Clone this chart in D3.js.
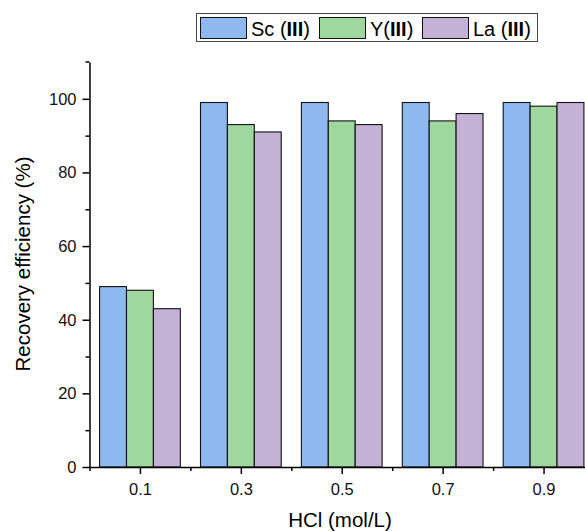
<!DOCTYPE html>
<html>
<head>
<meta charset="utf-8">
<script src="https://cdn.jsdelivr.net/npm/d3@7"></script>
<style>
  body { margin: 0; background: #fff; }
  text { font-family: "Liberation Sans", Arial, sans-serif; }
</style>
</head>
<body>
<svg id="chart" width="585" height="531"></svg>
<script>
// data
const concentrations = [0.1, 0.3, 0.5, 0.7, 0.9];
const seriesNames = ["Sc", "Y", "La"];
const scValues = [49, 99, 99, 99, 99];
const yValues = [48, 93, 94, 94, 98];
const laValues = [43, 91, 93, 96, 99];
const yTicks = [0, 20, 40, 60, 80, 100];

const colors = ["#8db8f0", "#9fd89f", "#c3b1d6"];
const allValues = [scValues, yValues, laValues];

const svg = d3.select("#chart");

// plot area
const x = d3.scaleLinear().domain([0, 1.0]).range([89.5, 594]);
const y = d3.scaleLinear().domain([0, 110]).range([467, 62]);

const groupW = 0.16;
const barW = groupW / 3;

// bars
allValues.forEach((vals, k) => {
  svg.append("g")
    .selectAll("rect")
    .data(concentrations.map((c, i) => ({c: c, v: vals[i]})))
    .join("rect")
      .attr("x", d => x(d.c - groupW / 2 + k * barW))
      .attr("y", d => y(d.v))
      .attr("width", d => x(d.c - groupW / 2 + (k + 1) * barW) - x(d.c - groupW / 2 + k * barW))
      .attr("height", d => y(0) - y(d.v))
      .attr("fill", colors[k])
      .attr("stroke", "#111")
      .attr("stroke-width", 1.1);
});

// Y axis (major + minor ticks)
svg.append("g")
  .attr("transform", "translate(" + x(0) + ",0)")
  .call(d3.axisLeft(y).tickValues(yTicks).tickSize(7).tickPadding(6).tickSizeOuter(0));
svg.append("g")
  .attr("transform", "translate(" + x(0) + ",0)")
  .call(d3.axisLeft(y).tickValues([10, 30, 50, 70, 90]).tickSize(4).tickFormat("").tickSizeOuter(0))
  .select(".domain").remove();
svg.append("line")
  .attr("x1", x(0) - 4).attr("x2", x(0))
  .attr("y1", y(110)).attr("y2", y(110))
  .attr("stroke", "#000").attr("stroke-width", 1.5);

// X axis
svg.append("g")
  .attr("transform", "translate(0," + y(0) + ")")
  .call(d3.axisBottom(x).tickValues(concentrations).tickSize(7).tickPadding(9)
    .tickFormat(d3.format(".1f")).tickSizeOuter(0));
svg.append("g")
  .attr("transform", "translate(0," + y(0) + ")")
  .call(d3.axisBottom(x).tickValues([0, 0.2, 0.4, 0.6, 0.8]).tickSize(4).tickFormat("").tickSizeOuter(0))
  .select(".domain").remove();

svg.selectAll(".domain").attr("stroke-width", 1.5);
svg.selectAll(".tick line").attr("stroke-width", 1.5);
svg.selectAll(".tick text").attr("font-size", 16.5).attr("fill", "#111")
  .style("font-family", "'Liberation Sans', Arial, sans-serif");

// axis titles
svg.append("text")
  .attr("x", 340).attr("y", 527)
  .attr("text-anchor", "middle")
  .attr("font-size", 20.5)
  .text("HCl (mol/L)");

svg.append("text")
  .attr("transform", "translate(30," + 264 + ") rotate(-90)")
  .attr("text-anchor", "middle")
  .attr("font-size", 20.5)
  .text("Recovery efficiency (%)");

// legend
const legend = svg.append("g");
legend.append("rect")
  .attr("x", 196.5).attr("y", 13.5).attr("width", 341).attr("height", 28)
  .attr("fill", "#fff").attr("stroke", "#444").attr("stroke-width", 1);
const legendX = [200, 319, 422];
const legendTxt = [["Sc (", "III", ")"], ["Y(", "III", ")"], ["La (", "III", ")"]];
seriesNames.forEach((n, i) => {
  legend.append("rect")
    .attr("x", legendX[i] + 0.5).attr("y", 17.5).attr("width", 46).attr("height", 21)
    .attr("fill", colors[i]).attr("stroke", "#111").attr("stroke-width", 1);
  const t = legend.append("text")
    .attr("x", legendX[i] + 51).attr("y", 36)
    .attr("font-size", 20);
  t.append("tspan").text(legendTxt[i][0]);
  t.append("tspan").attr("font-weight", "bold").text(legendTxt[i][1]);
  t.append("tspan").text(legendTxt[i][2]);
});
</script>
</body>
</html>
